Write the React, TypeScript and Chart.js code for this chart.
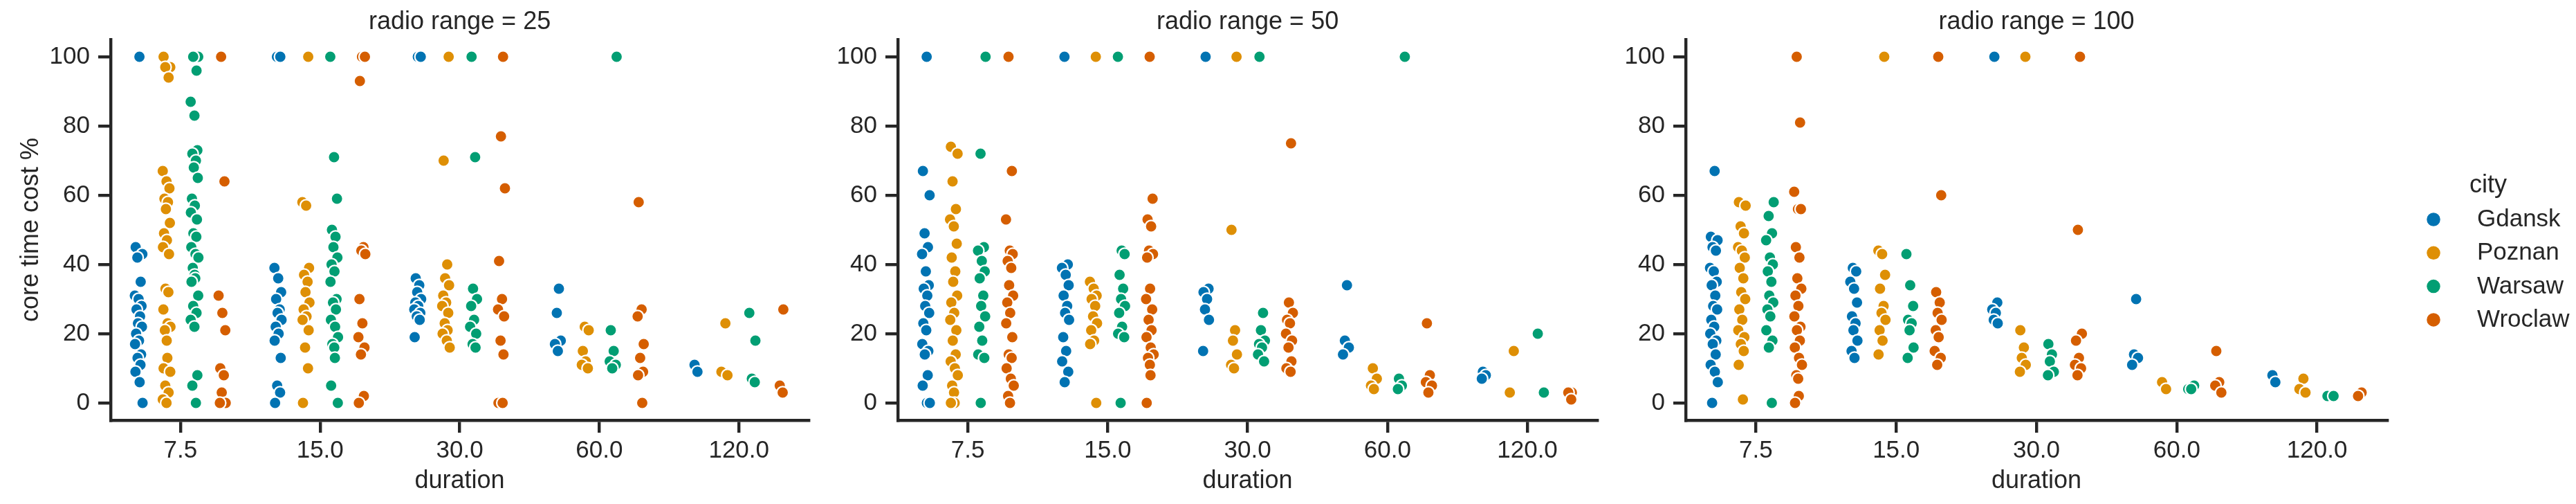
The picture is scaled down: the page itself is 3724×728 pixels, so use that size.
import React, { useEffect, useRef } from 'react';
import { Chart, registerables } from 'chart.js';

Chart.register(...registerables);

// ---------- data ----------
const CATEGORIES = ['7.5', '15.0', '30.0', '60.0', '120.0'];
const RADIO_RANGES = [25, 50, 100];
const CITIES = ['Gdansk', 'Poznan', 'Warsaw', 'Wroclaw'];
const Y_TICKS = [0, 20, 40, 60, 80, 100];

// radio range = 25  (one list of values per duration category)
const R25_GDANSK = [
  [100, 45, 43, 42, 35, 31, 30, 28, 27, 25, 23, 22, 20, 18, 17, 14, 13, 11, 9, 6, 0],
  [100, 100, 39, 36, 32, 30, 27, 26, 24, 22, 20, 18, 13, 5, 3, 0],
  [100, 100, 36, 34, 32, 30, 29, 28, 27, 26, 25, 24, 19],
  [33, 26, 18, 17, 15],
  [11, 9],
];
const R25_POZNAN = [
  [100, 97, 97, 94, 67, 64, 62, 59, 58, 56, 52, 49, 47, 45, 43, 33, 32, 27, 23, 22, 21, 18, 13, 10, 9, 5, 3, 1, 0],
  [100, 58, 57, 39, 37, 35, 32, 29, 27, 25, 24, 21, 16, 10, 0],
  [100, 70, 40, 36, 34, 31, 29, 28, 26, 23, 21, 20, 18, 16],
  [22, 21, 15, 12, 11, 10],
  [23, 9, 8],
];
const R25_WARSAW = [
  [100, 100, 96, 87, 83, 73, 72, 70, 68, 65, 59, 57, 55, 53, 49, 48, 45, 43, 42, 39, 37, 36, 35, 31, 28, 26, 24, 22, 8, 5, 0],
  [100, 71, 59, 50, 48, 45, 42, 40, 38, 35, 30, 29, 27, 24, 22, 19, 17, 16, 13, 5, 0],
  [100, 71, 33, 30, 28, 24, 22, 20, 17, 16],
  [100, 21, 15, 12, 11, 10],
  [26, 18, 7, 6],
];
const R25_WROCLAW = [
  [100, 64, 31, 26, 21, 10, 8, 3, 0, 0],
  [100, 100, 93, 45, 44, 43, 30, 23, 19, 16, 14, 2, 0],
  [100, 77, 62, 41, 30, 27, 25, 18, 14, 0, 0],
  [58, 27, 25, 17, 13, 9, 8, 0],
  [27, 5, 3],
];

// radio range = 50
const R50_GDANSK = [
  [100, 67, 60, 49, 45, 43, 38, 34, 33, 31, 28, 26, 23, 21, 17, 15, 14, 8, 5, 0, 0],
  [100, 40, 39, 37, 34, 31, 28, 26, 24, 19, 15, 12, 9, 6],
  [100, 33, 32, 30, 27, 24, 15],
  [34, 18, 16, 14],
  [9, 8, 7],
];
const R50_POZNAN = [
  [74, 72, 64, 56, 53, 51, 46, 42, 38, 35, 31, 29, 26, 24, 21, 18, 14, 12, 10, 8, 5, 3, 0, 0],
  [100, 35, 33, 31, 30, 28, 25, 23, 21, 18, 17, 0],
  [100, 50, 21, 18, 14, 11, 10],
  [10, 7, 5, 4],
  [15, 3],
];
const R50_WARSAW = [
  [100, 72, 45, 44, 41, 38, 36, 31, 28, 25, 22, 18, 14, 13, 0],
  [100, 44, 43, 37, 33, 30, 28, 26, 22, 20, 19, 0],
  [100, 26, 21, 18, 17, 16, 14, 12],
  [100, 7, 5, 4],
  [20, 3],
];
const R50_WROCLAW = [
  [100, 67, 53, 44, 43, 41, 39, 34, 31, 29, 26, 23, 19, 14, 13, 10, 7, 5, 2, 0],
  [100, 59, 53, 51, 44, 43, 42, 33, 30, 27, 24, 21, 19, 16, 14, 13, 11, 8, 0],
  [75, 29, 26, 24, 23, 20, 18, 16, 12, 10, 9],
  [23, 8, 6, 5, 3],
  [3, 3, 1],
];

// radio range = 100
const R100_GDANSK = [
  [67, 48, 47, 45, 44, 39, 38, 35, 34, 31, 28, 27, 24, 22, 20, 18, 17, 14, 11, 9, 6, 0],
  [39, 38, 35, 33, 29, 25, 23, 21, 18, 15, 13],
  [100, 29, 27, 26, 24, 23],
  [30, 14, 13, 11],
  [8, 6],
];
const R100_POZNAN = [
  [58, 57, 51, 49, 45, 44, 42, 39, 36, 32, 30, 27, 24, 21, 19, 17, 15, 11, 1],
  [100, 44, 43, 37, 33, 28, 26, 24, 21, 18, 14],
  [100, 21, 16, 13, 11, 9],
  [6, 4],
  [7, 4, 3],
];
const R100_WARSAW = [
  [58, 54, 49, 47, 42, 40, 38, 35, 31, 29, 27, 25, 21, 18, 16, 0],
  [43, 34, 28, 24, 23, 21, 16, 13],
  [17, 14, 12, 9, 8],
  [5, 4, 4],
  [2, 2],
];
const R100_WROCLAW = [
  [100, 81, 61, 56, 56, 45, 42, 36, 33, 31, 28, 25, 22, 21, 18, 16, 13, 11, 8, 7, 2, 0],
  [100, 60, 32, 29, 26, 24, 21, 19, 15, 13, 11],
  [100, 50, 20, 18, 13, 11, 10, 8],
  [15, 6, 5, 3],
  [3, 2],
];

const PANEL_DATA = [
  [R25_GDANSK, R25_POZNAN, R25_WARSAW, R25_WROCLAW],
  [R50_GDANSK, R50_POZNAN, R50_WARSAW, R50_WROCLAW],
  [R100_GDANSK, R100_POZNAN, R100_WARSAW, R100_WROCLAW],
];

// ---------- style ----------
const CITY_COLORS = ['#0173b2', '#de8f05', '#029e73', '#d55e00'];
const TEXT = '#262626';
const FONT = "'Liberation Sans', Arial, Helvetica, sans-serif";
const HUE_OFFSETS = [-0.3, -0.1, 0.1, 0.3];
const JITTER_WIDTH = 0.03;
const JITTER_PATTERN = [0.2, -0.7, 0.9, -0.3, 0.5, -0.9, 0.0, 0.7, -0.5, 0.35, -0.15, 0.8, -0.6, 0.1, -0.85, 0.6, -0.25, 0.45, -0.75, 0.25, 0.95, -0.4, 0.05];

const PANELS = [
  { left: 0, width: 1180, yWidth: 160, padRight: 6 },
  { left: 1180, width: 1140, yWidth: 118, padRight: 7 },
  { left: 2320, width: 1404, yWidth: 117, padRight: 273 },
];
const LEGEND = { titleX: 1277, titleY: 278, markerX: 1198, firstY: 317, step: 48.3, labelX: 1261, radius: 9.75 };

const facetTitlePlugin = {
  id: 'facetTitle',
  afterDraw(chart: any, _args: any, opts: any) {
    const { ctx, chartArea } = chart;
    ctx.save();
    ctx.font = `36px ${FONT}`;
    ctx.fillStyle = TEXT;
    ctx.textAlign = 'center';
    ctx.textBaseline = 'alphabetic';
    ctx.fillText(opts.text, (chartArea.left + chartArea.right) / 2, 41.5);
    ctx.restore();
  },
};

const cityLegendPlugin = {
  id: 'cityLegend',
  afterDraw(chart: any) {
    const { ctx } = chart;
    ctx.save();
    ctx.font = `36px ${FONT}`;
    ctx.fillStyle = TEXT;
    ctx.textAlign = 'center';
    ctx.textBaseline = 'alphabetic';
    ctx.fillText('city', LEGEND.titleX, LEGEND.titleY);
    ctx.font = `35px ${FONT}`;
    CITIES.forEach((c, k) => {
      const y = LEGEND.firstY + k * LEGEND.step;
      ctx.beginPath();
      ctx.arc(LEGEND.markerX, y, LEGEND.radius, 0, Math.PI * 2);
      ctx.fillStyle = CITY_COLORS[k];
      ctx.fill();
      ctx.fillStyle = TEXT;
      ctx.textAlign = 'left';
      ctx.fillText(c, LEGEND.labelX, y + 10);
    });
    ctx.restore();
  },
};

function buildConfig(pi: number): any {
  const panel = PANELS[pi];
  const datasets = CITIES.map((city, h) => {
    const pts: { x: number; y: number }[] = [];
    PANEL_DATA[pi][h].forEach((vals, ci) => {
      vals.forEach((v, j) => {
        pts.push({ x: ci + HUE_OFFSETS[h] + JITTER_PATTERN[(j + ci * 3 + h) % JITTER_PATTERN.length] * JITTER_WIDTH, y: v });
      });
    });
    return {
      label: city,
      data: pts,
      showLine: false,
      pointRadius: 8.6,
      pointHoverRadius: 8.6,
      pointBorderWidth: 2.25,
      pointBorderColor: '#ffffff',
      pointBackgroundColor: CITY_COLORS[h],
      backgroundColor: CITY_COLORS[h],
      clip: false,
    };
  });

  const gridStyle = {
    display: true,
    drawOnChartArea: false,
    drawTicks: true,
    tickLength: 18,
    tickWidth: 4.4,
    tickColor: TEXT,
    color: TEXT,
    lineWidth: 4.4,
  };

  return {
    type: 'scatter',
    data: { datasets },
    plugins: pi === 2 ? [facetTitlePlugin, cityLegendPlugin] : [facetTitlePlugin],
    options: {
      animation: false,
      responsive: false,
      devicePixelRatio: 1,
      events: [],
      layout: { padding: { left: 0, right: panel.padRight, top: 57, bottom: 0 } },
      plugins: {
        legend: { display: false },
        tooltip: { enabled: false },
        title: { display: false },
        facetTitle: { text: `radio range = ${RADIO_RANGES[pi]}` },
      },
      scales: {
        x: {
          type: 'linear',
          position: 'bottom',
          min: -0.5,
          max: CATEGORIES.length - 0.5,
          afterBuildTicks: (s: any) => {
            s.ticks = CATEGORIES.map((_, i) => ({ value: i }));
          },
          afterFit: (s: any) => {
            s.height = 121;
          },
          ticks: {
            callback: (v: any) => CATEGORIES[Math.round(v)],
            font: { family: FONT, size: 35 },
            color: TEXT,
            padding: 5,
            maxRotation: 0,
            minRotation: 0,
            autoSkip: false,
          },
          grid: gridStyle,
          border: { display: true, color: TEXT, width: 4.4 },
          title: {
            display: true,
            text: 'duration',
            font: { family: FONT, size: 36 },
            color: TEXT,
            padding: { top: 0, bottom: 11 },
          },
        },
        y: {
          type: 'linear',
          position: 'left',
          min: -5,
          max: 105,
          afterBuildTicks: (s: any) => {
            s.ticks = Y_TICKS.map((v) => ({ value: v }));
          },
          afterFit: (s: any) => {
            s.width = panel.yWidth;
          },
          ticks: {
            callback: (v: any) => String(v),
            font: { family: FONT, size: 35 },
            color: TEXT,
            padding: 12,
          },
          grid: gridStyle,
          border: { display: true, color: TEXT, width: 4.4 },
          title: {
            display: pi === 0,
            text: 'core time cost %',
            font: { family: FONT, size: 36 },
            color: TEXT,
            padding: { top: 23, bottom: 0 },
          },
        },
      },
    },
  };
}

export default function App() {
  const refs = useRef<(HTMLCanvasElement | null)[]>([]);

  useEffect(() => {
    const charts = PANELS.map((_, i) => new Chart(refs.current[i] as HTMLCanvasElement, buildConfig(i)));
    return () => charts.forEach((c) => c.destroy());
  }, []);

  return (
    <div style={{ position: 'absolute', left: 0, top: 0, width: 3724, height: 728, background: '#ffffff' }}>
      {PANELS.map((p, i) => (
        <canvas
          key={i}
          ref={(el) => {
            refs.current[i] = el;
          }}
          width={p.width}
          height={728}
          style={{ position: 'absolute', left: p.left, top: 0, width: p.width, height: 728 }}
        />
      ))}
    </div>
  );
}
